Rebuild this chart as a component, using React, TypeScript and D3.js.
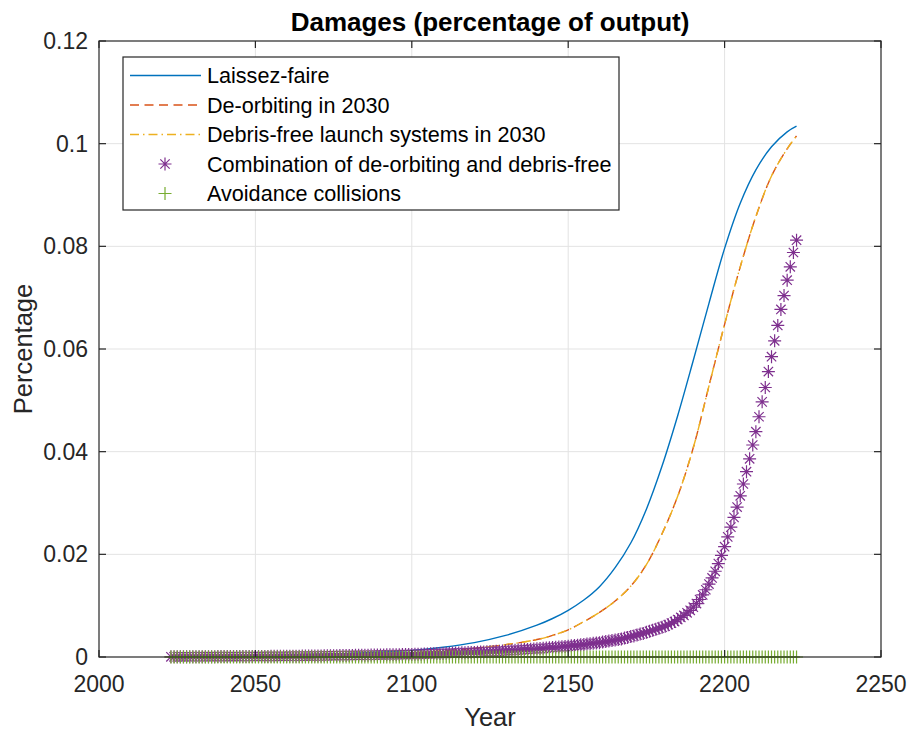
import React from 'react';
import * as d3 from 'd3';

const W = 912;
const H = 734;
const PLOT = { left: 99, right: 881, top: 41, bottom: 657 };
const FONT = "'Liberation Sans', Arial, Helvetica, sans-serif";

const xTicks = [2000, 2050, 2100, 2150, 2200, 2250];
const yTicks = [0, 0.02, 0.04, 0.06, 0.08, 0.1, 0.12];
const yTickLabels = ['0', '0.02', '0.04', '0.06', '0.08', '0.1', '0.12'];

const seriesNames = [
  'Laissez-faire',
  'De-orbiting in 2030',
  'Debris-free launch systems in 2030',
  'Combination of de-orbiting and debris-free',
  'Avoidance collisions',
];

// Laissez-faire (solid line)
const laissezYears = [2023, 2030, 2040, 2050, 2060, 2070, 2080, 2090, 2100, 2110, 2120, 2130, 2140, 2145, 2150, 2155, 2160, 2165, 2170, 2175, 2180, 2185, 2190, 2195, 2200, 2205, 2210, 2215, 2220, 2223];
const laissezValues = [0.0001, 0.00013, 0.00019, 0.00027, 0.00038, 0.00052, 0.00071, 0.00097, 0.0013, 0.0019, 0.0028, 0.0042, 0.0062, 0.0075, 0.0091, 0.0111, 0.0137, 0.0174, 0.0222, 0.0288, 0.0372, 0.047, 0.0578, 0.0689, 0.0796, 0.0884, 0.0949, 0.0994, 0.1023, 0.1034];

// De-orbiting in 2030 (dashed)
const deorbitYears = [2023, 2040, 2060, 2080, 2100, 2110, 2120, 2130, 2140, 2145, 2150, 2155, 2160, 2165, 2170, 2175, 2180, 2185, 2190, 2195, 2200, 2205, 2210, 2215, 2220, 2223];
const deorbitValues = [0.00008, 0.00013, 0.00025, 0.00045, 0.0008, 0.0012, 0.0017, 0.0024, 0.0034, 0.0042, 0.0053, 0.0069, 0.0087, 0.0109, 0.0138, 0.018, 0.024, 0.0313, 0.0408, 0.0528, 0.0648, 0.076, 0.0858, 0.0937, 0.099, 0.1015];

// Debris-free launch systems in 2030 (dash-dot)
const debrisYears = [2023, 2040, 2060, 2080, 2100, 2110, 2120, 2130, 2140, 2145, 2150, 2155, 2160, 2165, 2170, 2175, 2180, 2185, 2190, 2195, 2200, 2205, 2210, 2215, 2220, 2223];
const debrisValues = [0.00008, 0.00013, 0.00025, 0.00045, 0.0008, 0.0012, 0.0017, 0.0024, 0.0034, 0.0042, 0.0053, 0.0069, 0.0087, 0.0109, 0.0138, 0.018, 0.024, 0.0313, 0.0408, 0.0528, 0.0648, 0.076, 0.0858, 0.0937, 0.099, 0.1015];

// Marker series: one value per year, 2023..2223
const markerYears = d3.range(2023, 2224);

const combinationValues = [
  0.00003, 0.00003, 0.00004, 0.00004, 0.00004, 0.00005, 0.00005,
  0.00005, 0.00005, 0.00006, 0.00006, 0.00006, 0.00007, 0.00007, 0.00007, 0.00008, 0.00008,
  0.00008, 0.00008, 0.00009, 0.00009, 0.00009, 0.00009, 0.0001, 0.0001, 0.0001, 0.0001,
  0.0001, 0.00011, 0.00011, 0.00012, 0.00012, 0.00013, 0.00013, 0.00014, 0.00014, 0.00015,
  0.00015, 0.00016, 0.00016, 0.00017, 0.00017, 0.00018, 0.00018, 0.00019, 0.00019, 0.0002,
  0.0002, 0.00021, 0.00022, 0.00023, 0.00024, 0.00025, 0.00026, 0.00027, 0.00028, 0.00029,
  0.0003, 0.00031, 0.00032, 0.00033, 0.00034, 0.00035, 0.00036, 0.00037, 0.00038, 0.00039,
  0.0004, 0.00041, 0.00042, 0.00043, 0.00044, 0.00045, 0.00046, 0.00047, 0.00048, 0.00049,
  0.0005, 0.00052, 0.00054, 0.00056, 0.00058, 0.0006, 0.00062, 0.00064, 0.00066, 0.00068,
  0.0007, 0.00072, 0.00074, 0.00076, 0.00078, 0.0008, 0.00082, 0.00084, 0.00086, 0.00088,
  0.0009, 0.00093, 0.00096, 0.00099, 0.00102, 0.00105, 0.00108, 0.00111, 0.00114, 0.00117,
  0.0012, 0.00124, 0.00128, 0.00132, 0.00136, 0.0014, 0.00144, 0.00148, 0.00152, 0.00156,
  0.0016, 0.00165, 0.0017, 0.00175, 0.0018, 0.00185, 0.0019, 0.00195, 0.002, 0.00205,
  0.0021, 0.00217, 0.00224, 0.00231, 0.00238, 0.00245, 0.00252, 0.00259, 0.00266, 0.00273,
  0.0028, 0.0029, 0.003, 0.0031, 0.0032, 0.0033, 0.0034, 0.0035, 0.0037, 0.0038,
  0.004, 0.0041, 0.0043, 0.0045, 0.0046, 0.0048, 0.005, 0.0052, 0.0054, 0.0056,
  0.0058, 0.006, 0.0063, 0.0066, 0.0069, 0.0073, 0.0077, 0.0081, 0.0086, 0.0091,
  0.0097, 0.0104, 0.0112, 0.0121, 0.0131, 0.0142, 0.0154, 0.0167, 0.0182, 0.0198,
  0.0215, 0.0234, 0.0253, 0.0272, 0.0292, 0.0314, 0.0337, 0.0361, 0.0386, 0.0413,
  0.0439, 0.0468, 0.0497, 0.0525, 0.0556, 0.0585, 0.0616, 0.0646, 0.0677, 0.0704,
  0.0734, 0.076, 0.0788, 0.0812,
];

const avoidanceValues = [
  0, 0, 0, 0, 0, 0, 0, 0, 0, 0, 0, 0, 0, 0, 0, 0, 0, 0, 0, 0,
  0, 0, 0, 0, 0, 0, 0, 0, 0, 0, 0, 0, 0, 0, 0, 0, 0, 0, 0, 0,
  0, 0, 0, 0, 0, 0, 0, 0, 0, 0, 0, 0, 0, 0, 0, 0, 0, 0, 0, 0,
  0, 0, 0, 0, 0, 0, 0, 0, 0, 0, 0, 0, 0, 0, 0, 0, 0, 0, 0, 0,
  0, 0, 0, 0, 0, 0, 0, 0, 0, 0, 0, 0, 0, 0, 0, 0, 0, 0, 0, 0,
  0, 0, 0, 0, 0, 0, 0, 0, 0, 0, 0, 0, 0, 0, 0, 0, 0, 0, 0, 0,
  0, 0, 0, 0, 0, 0, 0, 0, 0, 0, 0, 0, 0, 0, 0, 0, 0, 0, 0, 0,
  0, 0, 0, 0, 0, 0, 0, 0, 0, 0, 0, 0, 0, 0, 0, 0, 0, 0, 0, 0,
  0, 0, 0, 0, 0, 0, 0, 0, 0, 0, 0, 0, 0, 0, 0, 0, 0, 0, 0, 0,
  0, 0, 0, 0, 0, 0, 0, 0, 0, 0, 0, 0, 0, 0, 0, 0, 0, 0, 0, 0,
  0,
];

const COLORS = {
  blue: '#0072BD',
  red: '#D95319',
  yellow: '#EDB120',
  purple: '#7E2F8E',
  green: '#77AC30',
  axis: '#262626',
  grid: '#E3E3E3',
};

const STAR_R = 6.5;
const PLUS_R = 6.5;

function starPath(r: number) {
  const d = r * 0.72;
  return `M${-r},0L${r},0M0,${-r}L0,${r}M${-d},${-d}L${d},${d}M${-d},${d}L${d},${-d}`;
}
function plusPath(r: number) {
  return `M${-r},0L${r},0M0,${-r}L0,${r}`;
}

export default function App() {
  const x = d3.scaleLinear().domain([2000, 2250]).range([PLOT.left, PLOT.right]);
  const y = d3.scaleLinear().domain([0, 0.12]).range([PLOT.bottom, PLOT.top]);

  const line = (xs: number[], ys: number[]) =>
    d3
      .line<number>()
      .x((_, i) => x(xs[i]))
      .y((v) => y(v))
      .curve(d3.curveCatmullRom.alpha(0.5))(ys) || '';

  const tickLen = 7;
  const star = starPath(STAR_R);
  const plus = plusPath(PLUS_R);

  const legend = { x: 123, y: 57, w: 496, h: 153, rowY0: 75.5, rowDy: 29.5, lx0: 130, lx1: 201, mx: 165, tx: 207 };

  return (
    <svg width={W} height={H} style={{ position: 'absolute', left: 0, top: 0, background: '#fff' }} fontFamily={FONT}>
      <rect x={0} y={0} width={W} height={H} fill="#fff" />
      {/* grid */}
      <g stroke={COLORS.grid} strokeWidth={1}>
        {xTicks.slice(1, -1).map((t) => (
          <line key={'gx' + t} x1={x(t)} x2={x(t)} y1={PLOT.top} y2={PLOT.bottom} />
        ))}
        {yTicks.slice(1, -1).map((t) => (
          <line key={'gy' + t} x1={PLOT.left} x2={PLOT.right} y1={y(t)} y2={y(t)} />
        ))}
      </g>

      {/* series */}
      <g fill="none">
        <path d={line(laissezYears, laissezValues)} stroke={COLORS.blue} strokeWidth={1.4} />
        <path d={line(deorbitYears, deorbitValues)} stroke={COLORS.red} strokeWidth={1.4} strokeDasharray="9 5.5" />
        <path d={line(debrisYears, debrisValues)} stroke={COLORS.yellow} strokeWidth={1.4} strokeDasharray="9 4 1.5 4" />
        <g stroke={COLORS.purple} strokeWidth={1.2}>
          {markerYears.map((yr, i) => (
            <path key={'s' + yr} d={star} transform={`translate(${x(yr)},${y(combinationValues[i])})`} />
          ))}
        </g>
        <g stroke={COLORS.green} strokeWidth={1.2}>
          {markerYears.map((yr, i) => (
            <path key={'p' + yr} d={plus} transform={`translate(${x(yr)},${y(avoidanceValues[i])})`} />
          ))}
        </g>
      </g>

      {/* axes box */}
      <g stroke={COLORS.axis} strokeWidth={1.2} fill="none">
        <rect x={PLOT.left} y={PLOT.top} width={PLOT.right - PLOT.left} height={PLOT.bottom - PLOT.top} />
        {xTicks.map((t) => (
          <g key={'tx' + t}>
            <line x1={x(t)} x2={x(t)} y1={PLOT.bottom} y2={PLOT.bottom - tickLen} />
            <line x1={x(t)} x2={x(t)} y1={PLOT.top} y2={PLOT.top + tickLen} />
          </g>
        ))}
        {yTicks.map((t) => (
          <g key={'ty' + t}>
            <line x1={PLOT.left} x2={PLOT.left + tickLen} y1={y(t)} y2={y(t)} />
            <line x1={PLOT.right} x2={PLOT.right - tickLen} y1={y(t)} y2={y(t)} />
          </g>
        ))}
      </g>

      {/* tick labels */}
      <g fill={COLORS.axis} fontSize={23}>
        {xTicks.map((t) => (
          <text key={'lx' + t} x={x(t)} y={692} textAnchor="middle">
            {t}
          </text>
        ))}
        {yTicks.map((t, i) => (
          <text key={'ly' + t} x={88} y={y(t)} textAnchor="end" dominantBaseline="central">
            {yTickLabels[i]}
          </text>
        ))}
      </g>

      {/* labels */}
      <text x={(PLOT.left + PLOT.right) / 2} y={726} textAnchor="middle" fontSize={25.5} fill={COLORS.axis}>
        Year
      </text>
      <text
        transform={`translate(32,${(PLOT.top + PLOT.bottom) / 2}) rotate(-90)`}
        textAnchor="middle"
        fontSize={25.5}
        fill={COLORS.axis}
      >
        Percentage
      </text>
      <text x={(PLOT.left + PLOT.right) / 2} y={31} textAnchor="middle" fontSize={26} fontWeight="bold" fill="#000">
        Damages (percentage of output)
      </text>

      {/* legend */}
      <g>
        <rect x={legend.x} y={legend.y} width={legend.w} height={legend.h} fill="#fff" stroke={COLORS.axis} strokeWidth={1.2} />
        {seriesNames.map((name, i) => {
          const cy = legend.rowY0 + i * legend.rowDy;
          let sample: React.ReactNode = null;
          if (i === 0) sample = <line x1={legend.lx0} x2={legend.lx1} y1={cy} y2={cy} stroke={COLORS.blue} strokeWidth={1.4} />;
          if (i === 1) sample = <line x1={legend.lx0} x2={legend.lx1} y1={cy} y2={cy} stroke={COLORS.red} strokeWidth={1.4} strokeDasharray="9 5.5" />;
          if (i === 2) sample = <line x1={legend.lx0} x2={legend.lx1} y1={cy} y2={cy} stroke={COLORS.yellow} strokeWidth={1.4} strokeDasharray="9 4 1.5 4" />;
          if (i === 3) sample = <path d={star} transform={`translate(${legend.mx},${cy})`} stroke={COLORS.purple} strokeWidth={1.2} fill="none" />;
          if (i === 4) sample = <path d={plus} transform={`translate(${legend.mx},${cy})`} stroke={COLORS.green} strokeWidth={1.2} fill="none" />;
          return (
            <g key={name}>
              {sample}
              <text x={legend.tx} y={cy} dominantBaseline="central" fontSize={21.6} fill="#000">
                {name}
              </text>
            </g>
          );
        })}
      </g>
    </svg>
  );
}
